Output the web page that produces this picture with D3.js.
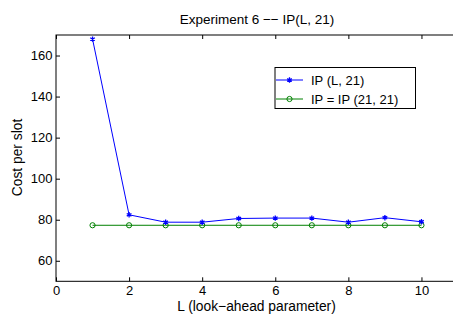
<!DOCTYPE html>
<html><head><meta charset="utf-8">
<script src="https://cdn.jsdelivr.net/npm/d3@7"></script>
<style>body{margin:0;background:#fff}svg{display:block}text{font-family:"Liberation Sans",Arial,sans-serif;fill:#000}</style>
</head><body><svg id="c" width="453" height="321"></svg>
<script>
const L = [1,2,3,4,5,6,7,8,9,10];
const ipL = [168,82.4,78.8,78.8,80.6,80.8,80.8,78.8,81.0,79.0];
const ip21 = [77.3,77.3,77.3,77.3,77.3,77.3,77.3,77.3,77.3,77.3];
const xTicks = [0,2,4,6,8,10];
const yTicks = [60,80,100,120,140,160];
const seriesNames = ["IP (L, 21)","IP = IP (21, 21)"];

const svg = d3.select("#c");
const m = {l:56, r:458, t:35, b:281.3};
const x = d3.scaleLinear().domain([0,11]).range([m.l,m.r]);
const y = d3.scaleLinear().domain([50,170]).range([m.b,m.t]);

svg.append("rect").attr("x",m.l).attr("y",m.t).attr("width",m.r-m.l).attr("height",m.b-m.t)
  .attr("fill","none").attr("stroke","#000").attr("stroke-width",1);

const ax = (g)=>{g.select(".domain").remove(); g.selectAll("text").style("font-size","13px").style("font-family","Liberation Sans, Arial, sans-serif");};
svg.append("g").attr("transform",`translate(0,${m.b})`)
  .call(d3.axisBottom(x).tickValues(xTicks).tickSizeInner(-4).tickPadding(4.5).tickFormat(d3.format("d"))).call(ax);
svg.append("g").attr("transform",`translate(0,${m.t})`)
  .call(d3.axisTop(x).tickValues(xTicks).tickSizeInner(-4).tickFormat("")).call(ax);
svg.append("g").attr("transform",`translate(${m.l},0)`)
  .call(d3.axisLeft(y).tickValues(yTicks).tickSizeInner(-4).tickPadding(3.5).tickFormat(d3.format("d"))).call(ax);

const line = d3.line().x((d,i)=>x(L[i])).y(d=>y(d));
svg.append("path").datum(ip21).attr("d",line).attr("fill","none").attr("stroke","#008000").attr("stroke-width",1);
svg.selectAll(".gc").data(ip21).enter().append("circle")
  .attr("cx",(d,i)=>x(L[i])).attr("cy",d=>y(d)).attr("r",2.6)
  .attr("fill","none").attr("stroke","#008000").attr("stroke-width",1);
svg.append("path").datum(ipL).attr("d",line).attr("fill","none").attr("stroke","#0000ff").attr("stroke-width",1);
const star = d3.symbol().type(d3.symbolAsterisk).size(20);
svg.selectAll(".bs").data(ipL).enter().append("path")
  .attr("transform",(d,i)=>`translate(${x(L[i])},${y(d)})`).attr("d",star)
  .attr("fill","none").attr("stroke","#0000ff").attr("stroke-width",1.3);

svg.append("text").attr("x",(m.l+m.r)/2).attr("y",24).attr("text-anchor","middle").style("font-size","13.5px")
  .text("Experiment 6 \u2212\u2212 IP(L, 21)");
svg.append("text").attr("x",(m.l+m.r)/2 - 0.5).attr("y",311).attr("text-anchor","middle").style("font-size","13.8px")
  .text("L (look\u2212ahead parameter)");
svg.append("text").attr("transform",`translate(21.5,157.5) rotate(-90)`).attr("text-anchor","middle").style("font-size","13.8px")
  .text("Cost per slot");

const lg = svg.append("g");
lg.append("rect").attr("x",275).attr("y",67.5).attr("width",140.5).attr("height",41)
  .attr("fill","#fff").attr("stroke","#000").attr("stroke-width",1);
const ly = [80,99];
const cols = ["#0000ff","#008000"];
seriesNames.forEach((n,i)=>{
  lg.append("line").attr("x1",276).attr("x2",303).attr("y1",ly[i]).attr("y2",ly[i]).attr("stroke",cols[i]).attr("stroke-width",1);
  if(i===0) lg.append("path").attr("transform",`translate(289.5,${ly[i]})`).attr("d",star).attr("fill","none").attr("stroke",cols[i]).attr("stroke-width",1.3);
  else lg.append("circle").attr("cx",289.5).attr("cy",ly[i]).attr("r",2.6).attr("fill","none").attr("stroke",cols[i]);
  lg.append("text").attr("x",311).attr("y",ly[i]+4.7).style("font-size","13px").text(n);
});
</script></body></html>
